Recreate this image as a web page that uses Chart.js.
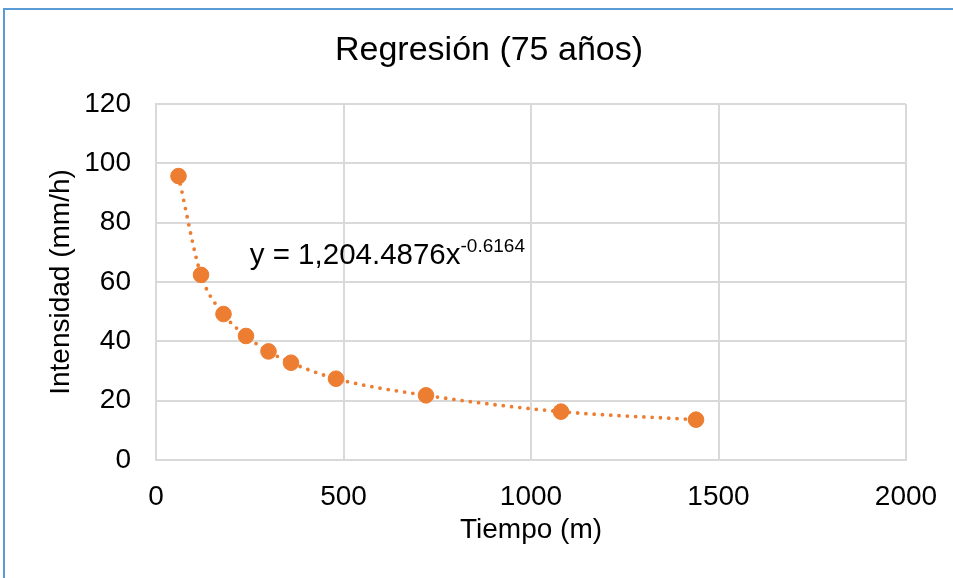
<!DOCTYPE html>
<html>
<head>
  <meta charset="utf-8">
  <title>Regresión (75 años)</title>
  <script src="https://cdn.jsdelivr.net/npm/chart.js"></script>
  <style>
    html, body { margin: 0; padding: 0; background: #fff; }
    #regChart { display: block; }
  </style>
</head>
<body>
  <canvas id="regChart" width="953" height="578"></canvas>

  <script>
    const tiempo = [60, 120, 180, 240, 300, 360, 480, 720, 1080, 1440];
    const intensidad = [95.7, 62.4, 49.2, 41.8, 36.6, 32.8, 27.4, 21.8, 16.3, 13.6];
    const xTicks = [0, 500, 1000, 1500, 2000];
    const yTicks = [0, 20, 40, 60, 80, 100, 120];
    const chartTitle = 'Regresión (75 años)';
    const eqMain = 'y = 1,204.4876x';
    const eqExp = '-0.6164';
    const eqAt = { x: 250, y: 66 };

    const orange = '#ED7D31';
    const gridGray = '#D9D9D9';
    const fontFam = '"Liberation Sans", Arial, sans-serif';

    // white background, blue frame on top and left, title centred on the (cropped) frame
    const framePlugin = {
      id: 'frame',
      beforeDraw(chart) {
        const ctx = chart.ctx;
        ctx.save();
        ctx.fillStyle = '#fff';
        ctx.fillRect(0, 0, chart.width, chart.height);
        ctx.fillStyle = '#5B9BD5';
        ctx.fillRect(3, 8, chart.width - 3, 2);
        ctx.fillRect(3, 8, 2, chart.height - 8);
        ctx.fillStyle = '#000';
        ctx.font = '34px ' + fontFam;
        ctx.textAlign = 'center';
        ctx.textBaseline = 'middle';
        ctx.fillText(chartTitle, 489, 51);
        ctx.restore();
      }
    };

    // trendline equation label
    const eqPlugin = {
      id: 'eqLabel',
      afterDatasetsDraw(chart) {
        const ctx = chart.ctx;
        const px = chart.scales.x.getPixelForValue(eqAt.x);
        const py = chart.scales.y.getPixelForValue(eqAt.y);
        ctx.save();
        ctx.fillStyle = '#000';
        ctx.textBaseline = 'alphabetic';
        ctx.textAlign = 'left';
        ctx.font = '29.5px ' + fontFam;
        ctx.fillText(eqMain, px, py);
        const w = ctx.measureText(eqMain).width;
        ctx.font = '19px ' + fontFam;
        ctx.fillText(eqExp, px + w, py - 12);
        ctx.restore();
      }
    };

    const ctx = document.getElementById('regChart').getContext('2d');
    new Chart(ctx, {
      type: 'scatter',
      data: {
        datasets: [
          {
            label: 'Intensidad',
            data: tiempo.map((t, i) => ({ x: t, y: intensidad[i] })),
            backgroundColor: orange,
            borderColor: orange,
            pointRadius: 7.8,
            pointHoverRadius: 7.8,
            order: 0
          },
          {
            label: 'Tendencia',
            data: tiempo.map((t, i) => ({ x: t, y: intensidad[i] })),
            showLine: true,
            pointRadius: 0,
            borderColor: orange,
            borderWidth: 3.8,
            borderDash: [0, 8.3],
            borderCapStyle: 'round',
            cubicInterpolationMode: 'monotone',
            order: 1
          }
        ]
      },
      options: {
        responsive: false,
        animation: false,
        layout: { padding: { left: 0, right: 47, top: 104, bottom: 0 } },
        plugins: {
          legend: { display: false },
          tooltip: { enabled: false },
          title: { display: false }
        },
        scales: {
          x: {
            type: 'linear',
            min: 0,
            max: 2000,
            afterBuildTicks: s => { s.ticks = xTicks.map(v => ({ value: v })); },
            afterFit: s => { s.height = 118; s.paddingRight = 0; },
            grid: { color: gridGray, lineWidth: 2, drawTicks: false },
            border: { color: gridGray, width: 2 },
            ticks: {
              color: '#000', padding: 20, font: { family: fontFam, size: 28 },
              callback: v => String(v)
            },
            title: {
              display: true,
              text: 'Tiempo (m)',
              color: '#000',
              font: { family: fontFam, size: 28 },
              padding: { top: 0, bottom: 31 }
            }
          },
          y: {
            type: 'linear',
            min: 0,
            max: 120,
            afterBuildTicks: s => { s.ticks = yTicks.map(v => ({ value: v })); },
            afterFit: s => { s.width = 156; s.paddingTop = 0; s.paddingBottom = 0; },
            grid: { color: gridGray, lineWidth: 2, drawTicks: false },
            border: { color: gridGray, width: 2 },
            ticks: {
              color: '#000', padding: 25, font: { family: fontFam, size: 28 },
              callback: v => String(v)
            },
            title: {
              display: true,
              text: 'Intensidad (mm/h)',
              color: '#000',
              font: { family: fontFam, size: 28 },
              padding: { top: 44, bottom: 0 }
            }
          }
        }
      },
      plugins: [framePlugin, eqPlugin]
    });
  </script>
</body>
</html>
